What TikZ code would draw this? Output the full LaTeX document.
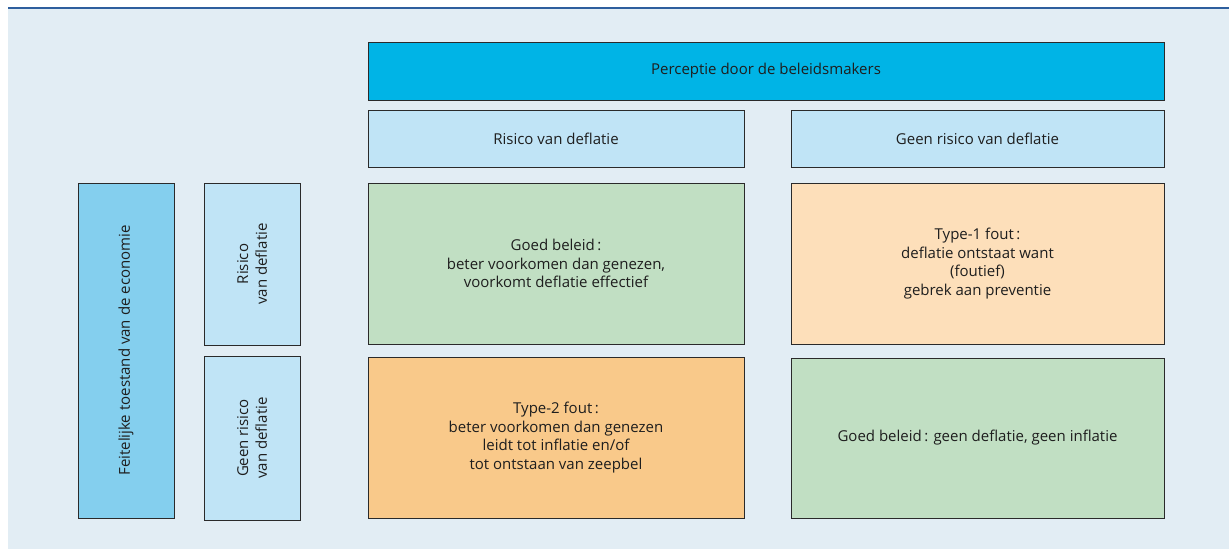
\documentclass[tikz,border=0pt]{standalone}
\usepackage{fontspec}
\setmainfont{Open Sans}
\definecolor{bgc}{HTML}{E2EDF4}
\definecolor{topline}{HTML}{2E5F9E}
\definecolor{cyanbox}{HTML}{00B4E6}
\definecolor{lightblue}{HTML}{C0E4F6}
\definecolor{midblue}{HTML}{84CFEE}
\definecolor{greenbox}{HTML}{C1DFC3}
\definecolor{lorange}{HTML}{FDDFBA}
\definecolor{orangebox}{HTML}{F9C98A}
\definecolor{edge}{HTML}{2A2A2A}
\definecolor{txt}{HTML}{1E1E1E}
\tikzset{
  cfont/.style={text=txt, font=\fontsize{15}{18.7}\selectfont},
  cell/.style={draw=edge, line width=1pt, inner sep=0pt, outer sep=0pt, align=center, cfont},
  vlabel/.style={rotate=90, align=center, cfont},
}
\begin{document}
\begin{tikzpicture}[x=1pt,y=-1pt]
\useasboundingbox (0,0) rectangle (1229,549);
\fill[white] (0,0) rectangle (1229,549);
\fill[bgc] (8,8) rectangle (1229,549);
\draw[topline, line width=2pt] (8,7.5) -- (1229,7.5);

\node[cell, fill=cyanbox, minimum width=796pt, minimum height=58pt] (top) at (766,71) {Perceptie door de beleidsmakers};
\node[cell, fill=lightblue, minimum width=376pt, minimum height=57pt] (r1) at (556,138.5) {Risico van deflatie};
\node[cell, fill=lightblue, minimum width=373pt, minimum height=57pt] (r2) at (977.5,138.5) {Geen risico van deflatie};

\node[cell, fill=midblue, minimum width=96pt, minimum height=335pt] (feit) at (126,350.5) {};
\node[vlabel] (feitlab) at (feit.center) {Feitelijke toestand van de economie};

\node[cell, fill=lightblue, minimum width=96pt, minimum height=162pt] (s1) at (252,264) {};
\node[vlabel] (s1lab) at (s1.center) {Risico\\van deflatie};
\node[cell, fill=lightblue, minimum width=96pt, minimum height=164pt] (s2) at (252,438) {};
\node[vlabel] (s2lab) at (s2.center) {Geen risico\\van deflatie};

\node[cell, fill=greenbox, minimum width=376pt, minimum height=161pt] (g1) at (556,263.5) {Goed beleid\,:\\beter voorkomen dan genezen,\\voorkomt deflatie effectief};
\node[cell, fill=orangebox, minimum width=376pt, minimum height=161pt] (o2) at (556,437.5) {Type-2 fout\,:\\beter voorkomen dan genezen\\leidt tot inflatie en/of\\tot ontstaan van zeepbel};
\node[cell, fill=lorange, minimum width=373pt, minimum height=161pt] (o1) at (977.5,263.5) {Type-1 fout\,:\\deflatie ontstaat want\\(foutief)\\gebrek aan preventie};
\node[cell, fill=greenbox, minimum width=373pt, minimum height=160pt] (g2) at (977.5,438) {Goed beleid\,: geen deflatie, geen inflatie};
\end{tikzpicture}
\end{document}
